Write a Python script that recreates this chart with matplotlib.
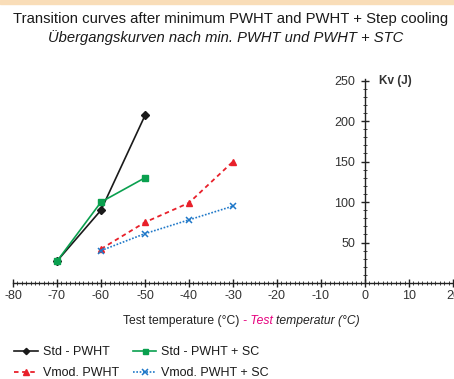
import matplotlib.pyplot as plt
from matplotlib.ticker import MultipleLocator, FixedLocator

plt.rcParams['font.family'] = ['Liberation Sans', 'DejaVu Sans']

# test temperatures (deg C) and impact energy Kv (J)
t_std = [-70, -60, -50]
kv_std_pwht = [27, 90, 207]
kv_std_sc = [27, 100, 130]
t_vmod = [-60, -50, -40, -30]
kv_vmod_pwht = [42, 75, 99, 150]
kv_vmod_sc = [40, 61, 78, 95]

xticks = [-80, -70, -60, -50, -40, -30, -20, -10, 0, 10, 20]
yticks = [50, 100, 150, 200, 250]

W, H = 454, 379
fig = plt.figure(figsize=(W / 100, H / 100), dpi=100)
fig.patches.append(plt.Rectangle((0, 1 - 4 / H), 1, 4 / H, transform=fig.transFigure,
                                 color='#f9ddb8', zorder=0))

ax = fig.add_axes([13 / W, (H - 283) / H, 440 / W, 204 / H])
ax.set_xlim(-80, 20)
ax.set_ylim(0, 252)

l1, = ax.plot(t_std, kv_std_pwht, color='#1a1a1a', lw=1.2, marker='D', ms=4,
              label='Std - PWHT', clip_on=False)
l2, = ax.plot(t_std, kv_std_sc, color='#0aa04f', lw=1.2, marker='s', ms=4.5,
              label='Std - PWHT + SC', clip_on=False)
l3, = ax.plot(t_vmod, kv_vmod_pwht, color='#e8202a', lw=1.3, ls=(0, (2.5, 2)), marker='^',
              ms=5, label='Vmod. PWHT', clip_on=False)
l4, = ax.plot(t_vmod, kv_vmod_sc, color='#1f78c8', lw=1.2, ls=(0, (1, 1)), marker='x', ms=5,
              mew=1.1, label='Vmod. PWHT + SC', clip_on=False)

for s in ['top', 'right']:
    ax.spines[s].set_visible(False)
ax.spines['left'].set_position(('data', 0))
ax.spines['bottom'].set_position(('data', 0))
for s in ['left', 'bottom']:
    ax.spines[s].set_color('#222222')
    ax.spines[s].set_linewidth(1.0)
ax.spines['left'].set_bounds(0, 252)

ax.xaxis.set_major_locator(FixedLocator(xticks))
ax.xaxis.set_minor_locator(MultipleLocator(1))
ax.yaxis.set_major_locator(FixedLocator(yticks))
ax.yaxis.set_minor_locator(MultipleLocator(10))
ax.set_xticklabels([str(v) for v in xticks])
ax.set_yticklabels([str(v) for v in yticks])
ax.tick_params(which='major', direction='inout', length=6, width=1.0, color='#222222',
               labelsize=9, labelcolor='#333333')
ax.tick_params(which='minor', direction='inout', length=3, width=0.6, color='#222222')
ax.tick_params(axis='x', pad=2)
ax.tick_params(axis='y', pad=4)
ax.patch.set_visible(False)

ax.text(3.2, 250, 'Kv (J)', fontsize=8.5, fontweight='bold', color='#333333',
        va='center', ha='left')

fig.text(231 / W, 1 - 19 / H, 'Transition curves after minimum PWHT and PWHT + Step cooling',
         ha='center', va='center', fontsize=10.7, color='#1a1a1a')
fig.text(226 / W, 1 - 38 / H, 'Übergangskurven nach min. PWHT und PWHT + STC',
         ha='center', va='center', fontsize=10.6, style='italic', color='#1a1a1a')

# axis title with a coloured middle piece, laid out left to right
renderer = fig.canvas.get_renderer()
x0 = 123 / W
ylab = 1 - 321 / H
parts = [('Test temperature (°C) ', '#222222', 'normal'),
         ('- Test ', '#e6007e', 'italic'),
         ('temperatur (°C)', '#222222', 'italic')]
for txt, col, sty in parts:
    t = fig.text(x0, ylab, txt, ha='left', va='center', fontsize=8.7, color=col,
                 style=sty)
    bb = t.get_window_extent(renderer)
    x0 = fig.transFigure.inverted().transform((bb.x1, bb.y0))[0]

# legend fills column-wise, so order the handles to get Std on the first row
fig.legend([l1, l3, l2, l4], [l1.get_label(), l3.get_label(), l2.get_label(), l4.get_label()],
           loc='upper left', bbox_to_anchor=(14 / W, 1 - 346 / H), ncol=2,
           frameon=False, handlelength=1.9, handletextpad=0.4,
           columnspacing=1.1, labelspacing=0.75, borderpad=0, borderaxespad=0,
           prop={'size': 9}, markerscale=0.8, labelcolor='#1a1a1a')

fig.savefig('out.png', dpi=100)
